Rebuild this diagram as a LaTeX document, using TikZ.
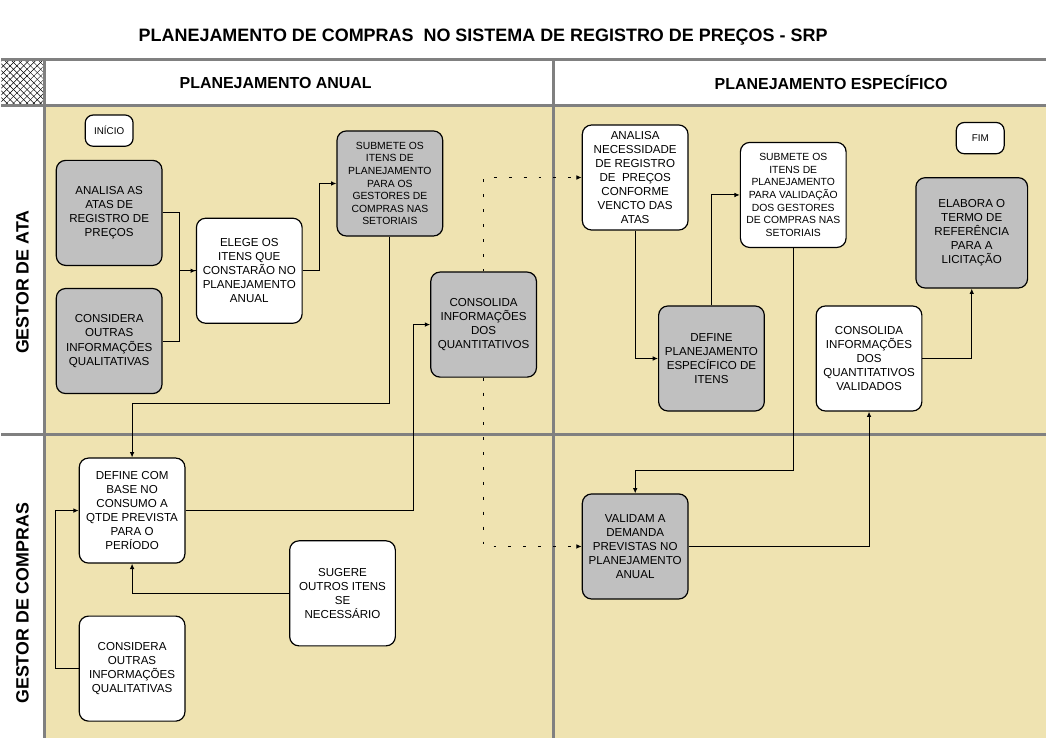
\documentclass[tikz,border=0pt]{standalone}
\usepackage{fontspec}
\setmainfont{Liberation Sans}
\usetikzlibrary{arrows.meta,patterns.meta}
\definecolor{areia}{RGB}{239,227,177}
\definecolor{cinzacaixa}{RGB}{192,192,192}
\definecolor{cinzalinha}{RGB}{128,128,128}
\begin{document}
\begin{tikzpicture}[x=0.75pt,y=-0.75pt,
  caixa/.style={draw, line width=0.9pt, rounded corners=7pt, align=center, minimum width=79.5pt, minimum height=79pt, inner sep=1pt, font=\fontsize{8.7}{10.6}\selectfont},
  cinza/.style={caixa, fill=cinzacaixa},
  branca/.style={caixa, fill=white},
  miuda/.style={font=\fontsize{7.8}{9.45}\selectfont},
  terminal/.style={draw, line width=0.9pt, fill=white, rounded corners=6pt, minimum width=36pt, minimum height=23.5pt, inner sep=1pt, font=\fontsize{7.4}{9}\selectfont},
  grade/.style={cinzalinha, line width=2.2pt},
  seta/.style={line width=0.75pt, -{Latex[length=4pt,width=3.5pt]}},
  pontilhado/.style={seta, dash pattern=on 2.2pt off 9pt}
]
\fill[white] (0,0) rectangle (1047,740);
\fill[areia] (43,106) rectangle (1047,740);
\fill[pattern={Lines[angle=45,distance=3.6pt,line width=0.35pt]}] (0,60) rectangle (43,106);
\fill[pattern={Lines[angle=-45,distance=3.6pt,line width=0.35pt]}] (0,60) rectangle (43,106);
\draw[grade] (0,60) -- (1047,60);
\draw[grade] (0,106) -- (1047,106);
\draw[grade] (0,436) -- (1047,436);
\draw[grade] (43,60) -- (43,740);
\draw[grade] (554,60) -- (554,740);
\node[font=\fontsize{13.5}{16}\selectfont\bfseries] (titulo) at (483,37) {PLANEJAMENTO DE COMPRAS \ NO SISTEMA DE REGISTRO DE PREÇOS - SRP};
\node[font=\fontsize{12}{14}\selectfont\bfseries] (anual) at (275,83) {PLANEJAMENTO ANUAL};
\node[font=\fontsize{12}{14}\selectfont\bfseries] (especifico) at (832,83) {PLANEJAMENTO ESPECÍFICO};
\node[font=\fontsize{13.4}{16}\selectfont\bfseries, rotate=90] (gestorata) at (21,283) {GESTOR DE ATA};
\node[font=\fontsize{13.4}{16}\selectfont\bfseries, rotate=90] (gestorcompras) at (21,605) {GESTOR DE COMPRAS};
\node[terminal] (inicio) at (108,131) {INÍCIO};
\node[cinza] (analisa) at (108,213.5) {ANALISA AS\\ATAS DE\\REGISTRO DE\\PREÇOS};
\node[cinza] (considA) at (108,342) {CONSIDERA\\OUTRAS\\INFORMAÇÕES\\QUALITATIVAS};
\node[branca] (elege) at (248.5,271.5) {ELEGE OS\\ITENS QUE\\CONSTARÃO NO\\PLANEJAMENTO\\ANUAL};
\node[cinza, miuda] (submeteA) at (389.5,184) {SUBMETE OS\\ITENS DE\\PLANEJAMENTO\\PARA OS\\GESTORES DE\\COMPRAS NAS\\SETORIAIS};
\node[cinza] (consolidaA) at (483.5,325.5) {CONSOLIDA\\INFORMAÇÕES\\DOS\\QUANTITATIVOS};
\node[branca] (define) at (131,512) {DEFINE COM\\BASE NO\\CONSUMO A\\QTDE PREVISTA\\PARA O\\PERÍODO};
\node[branca] (sugere) at (342,595) {SUGERE\\OUTROS ITENS\\SE\\NECESSÁRIO};
\node[branca] (considB) at (131,670.5) {CONSIDERA\\OUTRAS\\INFORMAÇÕES\\QUALITATIVAS};
\node[branca] (necessidade) at (635.5,178) {ANALISA\\NECESSIDADE\\DE REGISTRO\\DE \ PREÇOS\\CONFORME\\VENCTO DAS\\ATAS};
\node[branca, miuda] (submeteB) at (794,195.5) {SUBMETE OS\\ITENS DE\\PLANEJAMENTO\\PARA VALIDAÇÃO\\DOS GESTORES\\DE COMPRAS NAS\\SETORIAIS};
\node[terminal] (fim) at (981.5,138.5) {FIM};
\node[cinza, minimum width=84pt, minimum height=83pt] (elabora) at (973,233.5) {ELABORA O\\TERMO DE\\REFERÊNCIA\\PARA A\\LICITAÇÃO};
\node[cinza] (defplan) at (712,359.5) {DEFINE\\PLANEJAMENTO\\ESPECÍFICO DE\\ITENS};
\node[branca] (consolidaB) at (870,359.5) {CONSOLIDA\\INFORMAÇÕES\\DOS\\QUANTITATIVOS\\VALIDADOS};
\node[cinza] (validam) at (635.5,548) {VALIDAM A\\DEMANDA\\PREVISTAS NO\\PLANEJAMENTO\\ANUAL};
\draw[seta] (analisa.east) -- ++(17,0) |- (elege.west);
\draw[line width=0.75pt] (considA.east) -- ++(17,0) |- (elege.west);
\draw[seta] (elege.east) -- ++(17,0) |- (submeteA.west);
\draw[seta] (submeteA.south) -- ++(0,167) -| (define.north);
\draw[seta] (define.east) -- ++(229,0) |- (consolidaA.west);
\draw[seta] (sugere.west) -| (define.south);
\draw[seta] (considB.west) -- ++(-23,0) |- (define.west);
\draw[pontilhado] (consolidaA.north) |- (necessidade.west);
\draw[pontilhado] (consolidaA.south) |- (validam.west);
\draw[seta] (necessidade.south) |- (defplan.west);
\draw[seta] (defplan.north) |- (submeteB.west);
\draw[seta] (submeteB.south) -- ++(0,223) -| (validam.north);
\draw[seta] (validam.east) -| (consolidaB.south);
\draw[seta] (consolidaB.east) -| (elabora.south);
\end{tikzpicture}
\end{document}
